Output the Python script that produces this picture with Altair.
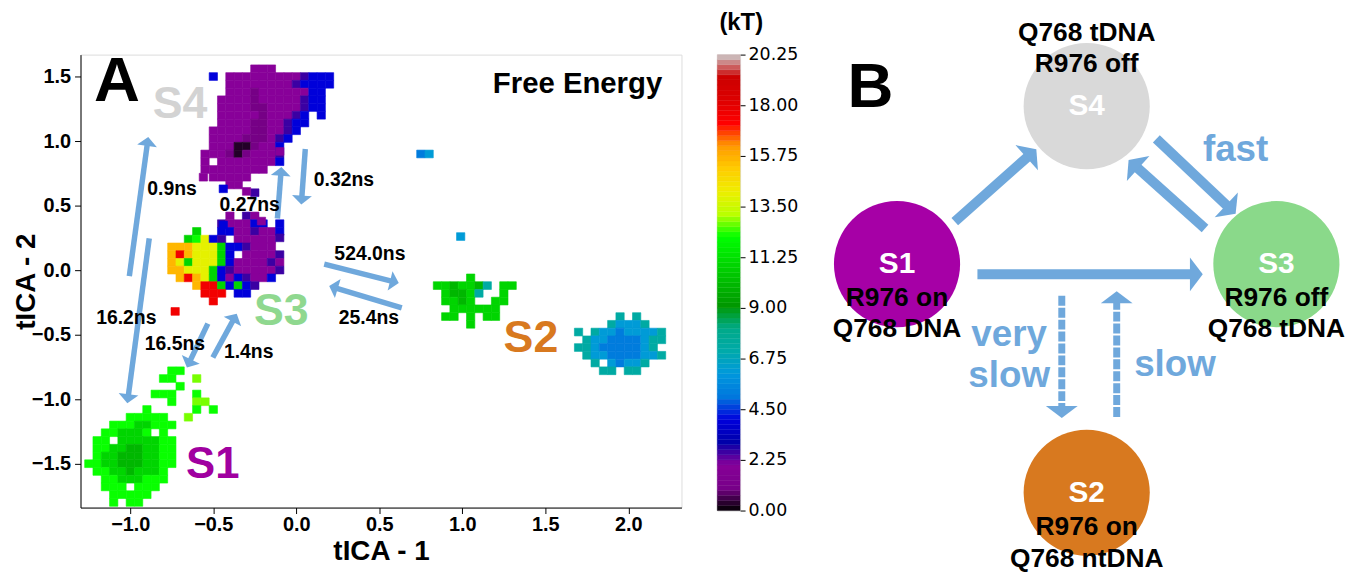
import math
import altair as alt
import pandas as pd

FONT = "Liberation Sans"
ARROW_BLUE = "#6fa8dc"

# ---------------- colour map (nipy_spectral) ----------------
E_MAX = 20.25
CMAP_POS = [0.0, 0.05, 0.10, 0.15, 0.20, 0.25, 0.30, 0.35, 0.40, 0.45, 0.50,
            0.55, 0.60, 0.65, 0.70, 0.75, 0.80, 0.85, 0.90, 0.95, 1.0]
CMAP_COLORS = ["#000000", "#770088", "#880099", "#0000aa", "#0000dd", "#0077dd",
               "#0099dd", "#00aaaa", "#00aa88", "#009900", "#00bb00", "#00dd00",
               "#00ff00", "#bbff00", "#eeee00", "#ffcc00", "#ff9900", "#ff0000",
               "#dd0000", "#cc0000", "#cccccc"]
CBAR_TICKS = [0.0, 2.25, 4.5, 6.75, 9.0, 11.25, 13.5, 15.75, 18.0, 20.25]
CBAR_BAND = 0.225

# ---------------- Panel A: free-energy landscape ----------------
X_DOMAIN = [-1.30, 2.32]
Y_DOMAIN = [-1.84, 1.67]
X_TICKS = [-1.0, -0.5, 0.0, 0.5, 1.0, 1.5, 2.0]
Y_TICKS = [-1.5, -1.0, -0.5, 0.0, 0.5, 1.0, 1.5]
A_W, A_H = 605, 456
CELL_DX, CELL_DY = 0.05, 0.06

ENERGY_CODE = {"k": 0.3, "d": 1.0, "p": 2.0, "q": 2.6, "b": 4.0, "c": 5.2,
               "t": 6.2, "u": 7.3, "g": 10.0, "G": 10.9, "L": 12.2, "l": 12.8,
               "y": 14.0, "o": 15.6, "r": 17.6}

# basin S4 (top-left corner x=-0.55, y=1.56)
S4_X0, S4_Y0 = -0.55, 1.56
S4_ROWS = [
    "......ppp.......",
    ".b.pppppppppqbbb",
    "...ppppppppqbbbb",
    "...pppdppppppbb.",
    "..ppppdpppppqbb.",
    "..ppppddppppqbb.",
    "..pppppdpppqb.b.",
    "..ppppddppqbb...",
    ".pppppddppqb....",
    ".ppppdddpqb.....",
    ".pppkkdppb......",
    "pppdkdpppq......",
    "p.pppppppb......",
    "pppppppp........",
    ".ppppp..........",
    "...pp...........",
    "......q.........",
]
# basin S3
S3_X0, S3_Y0 = -0.80, 0.42
S3_ROWS = [
    "........p.qp....",
    ".......qpppbb.b.",
    "....G..bbppqppb.",
    "...GLybq.ppppp..",
    ".oooyyyGbbqppp..",
    ".oroyyyGb.ppppq.",
    ".oyGyyyGbppppqp.",
    ".ooyyyGbqpppppq.",
    "..oroyGbpbqppb..",
    "....orrGbGbq....",
    ".....rrr.bb.....",
    "......r.........",
]
# basin S1
S1_X0, S1_Y0 = -1.25, -0.78
S1_ROWS = [
    "..........LL.....",
    ".........LL..l...",
    "...........L.....",
    "........LLL..L...",
    "..........L..ll..",
    ".......L.....L.L.",
    ".....LLLLL..l....",
    "...LLLGGLLL......",
    "..LLGGGL.L.......",
    ".LL.GGGGGLL......",
    ".LLGGggGGLL......",
    ".LGGgggGGLL......",
    "LLGGgggGGLL......",
    ".LLGGgGGGL.......",
    "..LLGGGLLL.......",
    "..LLL.LLL........",
    "...LLLLL.........",
    "...L.LL..........",
]
# small green basin next to S2
S2A_X0, S2A_Y0 = 0.80, -0.06
S2A_ROWS = [
    ".....G.....",
    ".GGgGGgu.GG",
    "..GggGu..G.",
    "..GGgG..GG.",
    "...GGGGGG..",
    "..GG.G.GG..",
    ".....G.....",
]
# basin S2
S2_X0, S2_Y0 = 1.70, -0.36
S2_ROWS = [
    ".....u.u...",
    "....utttu..",
    "u.uttcttttu",
    ".uttcccctuu",
    "uutccccctu.",
    ".uttccccttu",
    "..u.tcttu..",
    "...uu.uu...",
]
# isolated cells
STRAY_X = [-0.56, -0.44, -0.30, -0.10, -0.44, -0.21, -0.10, -0.73, 0.75, 0.80, 0.99]
STRAY_Y = [0.72, 0.63, 0.61, 0.92, 0.35, 0.38, 0.25, -0.32, 0.90, 0.90, 0.26]
STRAY_C = ["p", "b", "p", "p", "b", "p", "q", "r", "c", "t", "t"]

# transition arrows (start x, start y, tip x, tip y) and their labels
A_ARROWS = [
    (-1.006, -0.046, -0.892, 1.031),
    (-0.886, 0.246, -1.018, -1.031),
    (-0.114, 0.40, -0.090, 0.80),
    (0.054, 0.938, 0.030, 0.508),
    (0.168, 0.046, 0.617, -0.10),
    (0.635, -0.292, 0.198, -0.123),
    (-0.533, -0.415, -0.659, -0.754),
    (-0.503, -0.677, -0.359, -0.338),
]
RATE_TEXT = ["0.9ns", "0.32ns", "0.27ns", "524.0ns", "25.4ns", "16.2ns", "16.5ns", "1.4ns"]
RATE_X = [-0.749, 0.287, -0.281, 0.443, 0.437, -1.024, -0.731, -0.287]
RATE_Y = [0.631, 0.700, 0.508, 0.123, -0.369, -0.369, -0.569, -0.631]

STATE_TEXT = ["S4", "S3", "S1", "S2", "A"]
STATE_X = [-0.701, -0.090, -0.503, 1.413, -1.080]
STATE_Y = [1.285, -0.315, -1.508, -0.523, 1.454]
STATE_COL = ["#d3d3d3", "#8fd88f", "#a000a0", "#d8791f", "#000000"]
STATE_FS = [45, 45, 44, 45, 64]

# ---------------- Panel B: kinetic scheme ----------------
B_W, B_H = 570, 456
B_XDOM, B_YDOM = [0, 10], [0, 8]
NODE_NAMES = ["S1", "S2", "S3", "S4"]
NODE_X = [2.14, 5.49, 8.84, 5.49]
NODE_Y = [4.30, 0.26, 4.30, 7.09]
NODE_COLORS = ["#a600a6", "#d8791f", "#8ad98a", "#d9d9d9"]
NODE_DIAM_PX = 127

DESC_TEXT = ["Q768 tDNA", "R976 off", "R976 on", "Q768 DNA", "R976 off", "Q768 tDNA",
             "R976 on", "Q768 ntDNA"]
DESC_X = [5.49, 5.49, 2.14, 2.14, 8.84, 8.84, 5.49, 5.49]
DESC_Y = [8.38, 7.84, 3.70, 3.16, 3.70, 3.16, -0.35, -0.91]

SPEED_TEXT = ["fast", "very", "slow", "slow"]
SPEED_X = [8.12, 4.12, 4.12, 7.05]
SPEED_Y = [6.32, 3.04, 2.33, 2.51]

B_SOLID = [(3.16, 5.05, 4.60, 6.33), (6.72, 6.51, 8.12, 5.19),
           (7.58, 4.93, 6.23, 6.14), (3.56, 4.12, 7.54, 4.12)]
B_DASHED = [(5.05, 3.74, 5.05, 1.58), (6.02, 1.60, 6.02, 3.82)]

# ---------------- helpers ----------------
cscale = alt.Scale(domain=[p * E_MAX for p in CMAP_POS], range=CMAP_COLORS,
                   interpolate="rgb", clamp=True)


def grid_cells(x0, y0, rows):
    out = []
    for r, row in enumerate(rows):
        for c, ch in enumerate(row):
            if ch in ENERGY_CODE:
                out.append({"x": x0 + c * CELL_DX, "y": y0 - r * CELL_DY,
                            "E": ENERGY_CODE[ch]})
    return out


cells = []
for x0, y0, rows in [(S4_X0, S4_Y0, S4_ROWS), (S3_X0, S3_Y0, S3_ROWS),
                     (S1_X0, S1_Y0, S1_ROWS), (S2A_X0, S2A_Y0, S2A_ROWS),
                     (S2_X0, S2_Y0, S2_ROWS)]:
    cells += grid_cells(x0, y0, rows)
for x, y, ch in zip(STRAY_X, STRAY_Y, STRAY_C):
    cells.append({"x": x, "y": y, "E": ENERGY_CODE[ch]})
heat_df = pd.DataFrame(cells)


def arrow_geom(arrows, sx, sy, tip_off_px):
    shafts, heads = [], []
    for xs, ys, xt, yt in arrows:
        ux, uy = (xt - xs) * sx, (yt - ys) * sy
        L = math.hypot(ux, uy)
        ux, uy = ux / L, uy / L
        ang = math.degrees(math.atan2(ux, uy)) % 360
        hx, hy = xt - ux * tip_off_px / sx, yt - uy * tip_off_px / sy
        shafts.append({"x": xs, "y": ys, "x2": hx, "y2": hy})
        heads.append({"x": hx, "y": hy, "ang": ang})
    return pd.DataFrame(shafts), pd.DataFrame(heads)


A_SX = A_W / (X_DOMAIN[1] - X_DOMAIN[0])
A_SY = A_H / (Y_DOMAIN[1] - Y_DOMAIN[0])
B_S = B_W / (B_XDOM[1] - B_XDOM[0])

A_HEAD = "M0,-0.45L1,0.45L-1,0.45Z"
A_HEAD_PX = 20
a_shaft, a_head = arrow_geom(A_ARROWS, A_SX, A_SY, 0.45 * A_HEAD_PX / 2)

B_HEAD = "M0,-0.38L1,0.38L-1,0.38Z"
B_HEAD_PX = 34
b_shaft, b_head = arrow_geom(B_SOLID, B_S, B_S, 0.38 * B_HEAD_PX / 2)
BD_HEAD_PX = 32
bd_shaft, bd_head = arrow_geom(B_DASHED, B_S, B_S, 0.38 * BD_HEAD_PX / 2)

# ---------------- Panel A chart ----------------
ax_x = alt.X("xl:Q", scale=alt.Scale(domain=X_DOMAIN, nice=False, zero=False),
             axis=alt.Axis(values=X_TICKS, format=".1f", title="tICA - 1",
                           titleFontSize=28, titleFont=FONT, titleFontWeight="bold",
                           titleY=30, titleBaseline="top",
                           labelFont=FONT, labelFontWeight="bold", labelFontSize=20,
                           labelColor="black", tickSize=6, tickColor="black",
                           labelPadding=1,
                           domainColor="black", grid=False))
ax_y = alt.Y("yl:Q", scale=alt.Scale(domain=Y_DOMAIN, nice=False, zero=False),
             axis=alt.Axis(values=Y_TICKS, format=".1f", title="tICA - 2",
                           titleFontSize=28, titleFont=FONT, titleFontWeight="bold",
                           titleX=-40,
                           labelFont=FONT, labelFontWeight="bold", labelFontSize=20,
                           labelColor="black", tickSize=6, tickColor="black",
                           labelPadding=4,
                           domainColor="black", grid=False))

heat = alt.Chart(heat_df).transform_calculate(
    xl=f"datum.x - {CELL_DX / 2}", xh=f"datum.x + {CELL_DX / 2}",
    yl=f"datum.y - {CELL_DY / 2}", yh=f"datum.y + {CELL_DY / 2}",
).mark_rect(strokeWidth=0.6).encode(
    x=ax_x, x2="xh:Q", y=ax_y, y2="yh:Q",
    color=alt.Color("E:Q", scale=cscale, legend=None),
    stroke=alt.Stroke("E:Q", scale=cscale, legend=None),
)

a_rules = alt.Chart(a_shaft).mark_rule(color=ARROW_BLUE, strokeWidth=5.5, strokeCap="butt").encode(
    x="x:Q", y="y:Q", x2="x2:Q", y2="y2:Q")
a_heads = alt.Chart(a_head).mark_point(shape=A_HEAD, filled=True, size=A_HEAD_PX ** 2,
                                       color=ARROW_BLUE, opacity=1, strokeWidth=0).encode(
    x="x:Q", y="y:Q", angle=alt.Angle("ang:Q", scale=None))

rate_df = pd.DataFrame({"x": RATE_X, "y": RATE_Y, "t": RATE_TEXT})
rates = alt.Chart(rate_df).mark_text(font=FONT, fontWeight="bold", fontSize=19.5,
                                     color="black", baseline="middle").encode(
    x="x:Q", y="y:Q", text="t:N")

state_df = pd.DataFrame({"x": STATE_X, "y": STATE_Y, "t": STATE_TEXT,
                         "col": STATE_COL, "fs": STATE_FS})
states = alt.Chart(state_df).mark_text(font=FONT, fontWeight="bold", baseline="middle").encode(
    x="x:Q", y="y:Q", text="t:N", size=alt.Size("fs:Q", scale=None),
    fill=alt.Fill("col:N", scale=None))

fe = alt.Chart(pd.DataFrame({"x": [2.204], "y": [1.438], "t": ["Free Energy"]})).mark_text(
    font=FONT, fontWeight="bold", fontSize=29.5, align="right", baseline="middle",
    color="black").encode(x="x:Q", y="y:Q", text="t:N")

panel_a = alt.layer(heat, a_rules, a_heads, rates, states, fe).properties(
    width=A_W, height=A_H)

# ---------------- colour bar ----------------
n_band = int(round(E_MAX / CBAR_BAND))
cb_df = pd.DataFrame({"lo": [i * CBAR_BAND for i in range(n_band)]})
cb_df["hi"] = cb_df["lo"] + CBAR_BAND
cb_df["mid"] = cb_df["lo"] + CBAR_BAND / 2
cb_df["x0"] = 0.0
cb_df["x1"] = 1.0
CB_W, CB_H = 23, 459
cb_rect = alt.Chart(cb_df).mark_rect(strokeWidth=0.4).encode(
    x=alt.X("x0:Q", scale=alt.Scale(domain=[0, 1], nice=False), axis=None),
    x2="x1:Q",
    y=alt.Y("lo:Q", scale=alt.Scale(domain=[0, E_MAX], nice=False, zero=False),
            axis=alt.Axis(orient="right", values=CBAR_TICKS, format=".2f", title=None,
                          labelFont="DejaVu Sans", labelFontSize=17.5, labelColor="black",
                          tickSize=5, tickColor="black", domain=False, grid=False,
                          labelPadding=3)),
    y2="hi:Q",
    color=alt.Color("mid:Q", scale=cscale, legend=None),
    stroke=alt.Stroke("mid:Q", scale=cscale, legend=None),
)
cb_title = alt.Chart(pd.DataFrame({"x": [1.05], "y": [21.66], "t": ["(kT)"]})).mark_text(
    font=FONT, fontWeight="bold", fontSize=24, color="black", baseline="middle").encode(
    x="x:Q", y="y:Q", text="t:N")
cbar = alt.layer(cb_rect, cb_title).properties(width=CB_W, height=CB_H)

# ---------------- Panel B chart ----------------
bx = alt.X("x:Q", scale=alt.Scale(domain=B_XDOM, nice=False, zero=False), axis=None)
by = alt.Y("y:Q", scale=alt.Scale(domain=B_YDOM, nice=False, zero=False), axis=None)

node_df = pd.DataFrame({"x": NODE_X, "y": NODE_Y, "t": NODE_NAMES, "col": NODE_COLORS})
nodes = alt.Chart(node_df).mark_point(shape="circle", filled=True, size=NODE_DIAM_PX ** 2,
                                      opacity=1, strokeWidth=0).encode(
    x=bx, y=by, fill=alt.Fill("col:N", scale=None))
node_lab = alt.Chart(node_df).mark_text(font=FONT, fontWeight="bold", fontSize=30,
                                        color="white", baseline="middle").encode(
    x="x:Q", y="y:Q", text="t:N")

b_rules = alt.Chart(b_shaft).mark_rule(color=ARROW_BLUE, strokeWidth=10, strokeCap="butt").encode(
    x="x:Q", y="y:Q", x2="x2:Q", y2="y2:Q")
b_heads = alt.Chart(b_head).mark_point(shape=B_HEAD, filled=True, size=B_HEAD_PX ** 2,
                                       color=ARROW_BLUE, opacity=1, strokeWidth=0).encode(
    x="x:Q", y="y:Q", angle=alt.Angle("ang:Q", scale=None))
bd_rules = alt.Chart(bd_shaft).mark_rule(color=ARROW_BLUE, strokeWidth=7, strokeCap="butt",
                                         strokeDash=[10, 2]).encode(
    x="x:Q", y="y:Q", x2="x2:Q", y2="y2:Q")
bd_heads = alt.Chart(bd_head).mark_point(shape=B_HEAD, filled=True, size=BD_HEAD_PX ** 2,
                                         color=ARROW_BLUE, opacity=1, strokeWidth=0).encode(
    x="x:Q", y="y:Q", angle=alt.Angle("ang:Q", scale=None))

desc_df = pd.DataFrame({"x": DESC_X, "y": DESC_Y, "t": DESC_TEXT})
desc = alt.Chart(desc_df).mark_text(font=FONT, fontWeight="bold", fontSize=26.5,
                                    color="black", baseline="middle").encode(
    x="x:Q", y="y:Q", text="t:N")
speed_df = pd.DataFrame({"x": SPEED_X, "y": SPEED_Y, "t": SPEED_TEXT})
speed = alt.Chart(speed_df).mark_text(font=FONT, fontWeight="bold", fontSize=37,
                                      color=ARROW_BLUE, baseline="middle").encode(
    x="x:Q", y="y:Q", text="t:N")
b_lab = alt.Chart(pd.DataFrame({"x": [1.67], "y": [7.40], "t": ["B"]})).mark_text(
    font=FONT, fontWeight="bold", fontSize=64, color="black", baseline="middle").encode(
    x="x:Q", y="y:Q", text="t:N")

panel_b = alt.layer(nodes, b_rules, b_heads, bd_rules, bd_heads, node_lab, desc, speed,
                    b_lab).properties(width=B_W, height=B_H,
                                      view=alt.ViewBackground(strokeOpacity=0))

chart = alt.hconcat(panel_a, cbar, panel_b, spacing=36, bounds="flush").properties(
    padding={"left": 4, "top": 0, "right": 5, "bottom": 5}
).configure_view(stroke="black", strokeWidth=1.2).configure(background="white")

chart.save("out.html", embed_options={"renderer": "svg", "actions": False})
